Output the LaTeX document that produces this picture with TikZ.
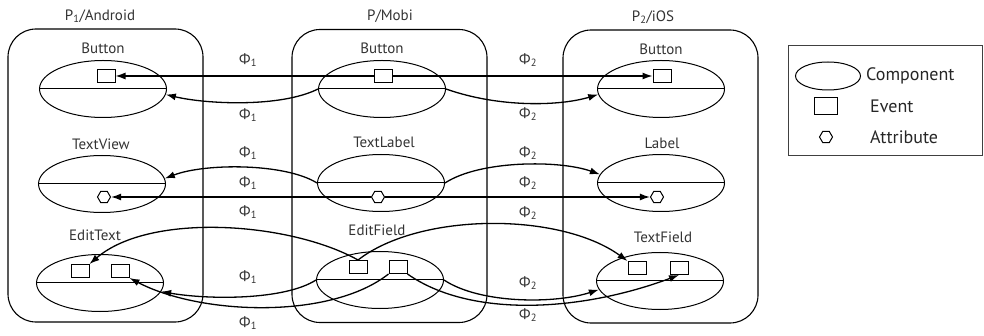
\documentclass[tikz,border=0pt]{standalone}
\usepackage{fontspec}
\setmainfont{PT Sans}
\newfontfamily\phifont{Open Sans}
\usetikzlibrary{shapes.geometric,arrows.meta}
\newcommand{\phisub}[1]{{\phifont Φ}\textsubscript{#1}}
\begin{document}
\begin{tikzpicture}[x=1pt,y=-1pt,
  every node/.style={font=\fontsize{15}{18}\selectfont, text=black!80},
  container/.style={draw, line width=1.1pt, rounded corners=28pt, minimum width=195pt, minimum height=293pt, inner sep=0},
  comp/.style={draw, ellipse, line width=1pt, minimum width=127pt, minimum height=57pt, inner sep=0},
  event/.style={draw, line width=1pt, minimum width=18pt, minimum height=13pt, inner sep=0, fill=white},
  attr/.style={draw, regular polygon, regular polygon sides=6, line width=1pt, minimum size=13pt, inner sep=0, fill=white},
  conn/.style={line width=1.3pt, -{Latex[length=10pt,width=7pt]}},
  philab/.style={font=\fontsize{15}{18}\selectfont, text=black!80, inner sep=0},
  legtext/.style={font=\fontsize{18}{21}\selectfont, text=black!85, anchor=west, inner sep=0}
]
\useasboundingbox (0,0) rectangle (984,336);
% containers
\node[container] (CA) at (105.5,175.5) {};
\node[container] (CM) at (389.5,176) {};
\node[container] (CI) at (660.5,176.5) {};
\node (TA) at (100,16) {P\textsubscript{1}/Android};
\node (TM) at (390,16) {P/Mobi};
\node (TI) at (653,17) {P\textsubscript{2}/iOS};
% row 1
\node[comp] (A1) at (103,89) {};
\node[comp] (M1) at (382,89) {};
\node[comp] (I1) at (661,89) {};
\draw[line width=1pt] (A1.west) -- (A1.east) (M1.west) -- (M1.east) (I1.west) -- (I1.east);
\node (LA1) at (103,48) {Button};
\node (LM1) at (382,48) {Button};
\node (LI1) at (661,49) {Button};
% row 2
\node[comp] (A2) at (102,184) {};
\node[comp] (M2) at (381,183) {};
\node[comp] (I2) at (661,183) {};
\draw[line width=1pt] (A2.west) -- (A2.east) (M2.west) -- (M2.east) (I2.west) -- (I2.east);
\node (LA2) at (101,144) {TextView};
\node (LM2) at (384,142) {TextLabel};
\node (LI2) at (662,143) {Label};
% row 3
\node[comp] (A3) at (100,283) {};
\node[comp] (M3) at (380,280) {};
\node[comp] (I3) at (660,281) {};
\draw[line width=1pt] (A3.west) -- (A3.east) (M3.west) -- (M3.east) (I3.west) -- (I3.east);
\node (LA3) at (95,235) {EditText};
\node (LM3) at (377,230) {EditField};
\node (LI3) at (663,237) {TextField};
% events and attributes
\node[event] (EA1) at (106,76) {};
\node[event] (EM1) at (383,76) {};
\node[event] (EI1) at (662,76) {};
\node[attr] (HA) at (104,197) {};
\node[attr] (HM) at (378,197) {};
\node[attr] (HI) at (657,197) {};
\node[event] (EA3a) at (80,271) {};
\node[event] (EA3b) at (120,271) {};
\node[event] (EM3a) at (358,267) {};
\node[event] (EM3b) at (398,267) {};
\node[event] (EI3a) at (637,268) {};
\node[event] (EI3b) at (679,268) {};
% row 1 connectors
\draw[conn] (EM1.west) -- (EA1.east);
\draw[conn] (EM1.east) -- (EI1.west);
\draw[conn] (M1.west) .. controls (280,108) and (205,104) .. (A1.355);
\draw[conn] (M1.east) .. controls (500,108) and (560,106) .. (I1.185);
% row 2 connectors
\draw[conn] (HM.west) -- (HA.east);
\draw[conn] (HM.east) -- (HI.west);
\draw[conn] (M2.west) .. controls (285,163) and (205,163) .. (A2.5);
\draw[conn] (M2.east) .. controls (480,160) and (560,160) .. (I2.172);
% row 3 connectors
\draw[conn] (EM3a.north) .. controls (290,222) and (150,212) .. (EA3a.north east);
\draw[conn] (EM3a.north) .. controls (420,212) and (560,212) .. (EI3a.north west);
\draw[conn] (M3.west) .. controls (285,300) and (210,300) .. (A3.352);
\draw[conn] (EM3b.south west) .. controls (330,320) and (200,315) .. (EA3b.south east);
\draw[conn] (M3.east) .. controls (480,304) and (555,304) .. (I3.188);
\draw[conn] (EM3b.south east) .. controls (470,318) and (580,312) .. (EI3b.south);
% Phi labels
\foreach \y/\n in {60/p11,115/p12,153/p13,183/p14,212/p15,277/p16,323/p17}
  \node[philab] (\n) at (248,\y) {\phisub{1}};
\foreach \y/\n in {60/p21,114/p22,153/p23,183/p24,213/p25,283/p26,315/p27}
  \node[philab] (\n) at (528,\y) {\phisub{2}};
% legend
\node[draw=black!75, line width=1.6pt, minimum width=194pt, minimum height=110pt, inner sep=0] (LG) at (885.5,100.5) {};
\node[draw, ellipse, line width=1pt, minimum width=65pt, minimum height=28pt, inner sep=0] (LGc) at (828,76) {};
\node[draw, line width=1pt, minimum width=23pt, minimum height=17pt, inner sep=0] (LGe) at (826,106) {};
\node[draw, regular polygon, regular polygon sides=6, line width=1pt, minimum size=13pt, inner sep=0] (LGa) at (826,137) {};
\node[legtext] (LGct) at (866,76) {Component};
\node[legtext] (LGet) at (870,106) {Event};
\node[legtext] (LGat) at (870,137) {Attribute};
\end{tikzpicture}
\end{document}
